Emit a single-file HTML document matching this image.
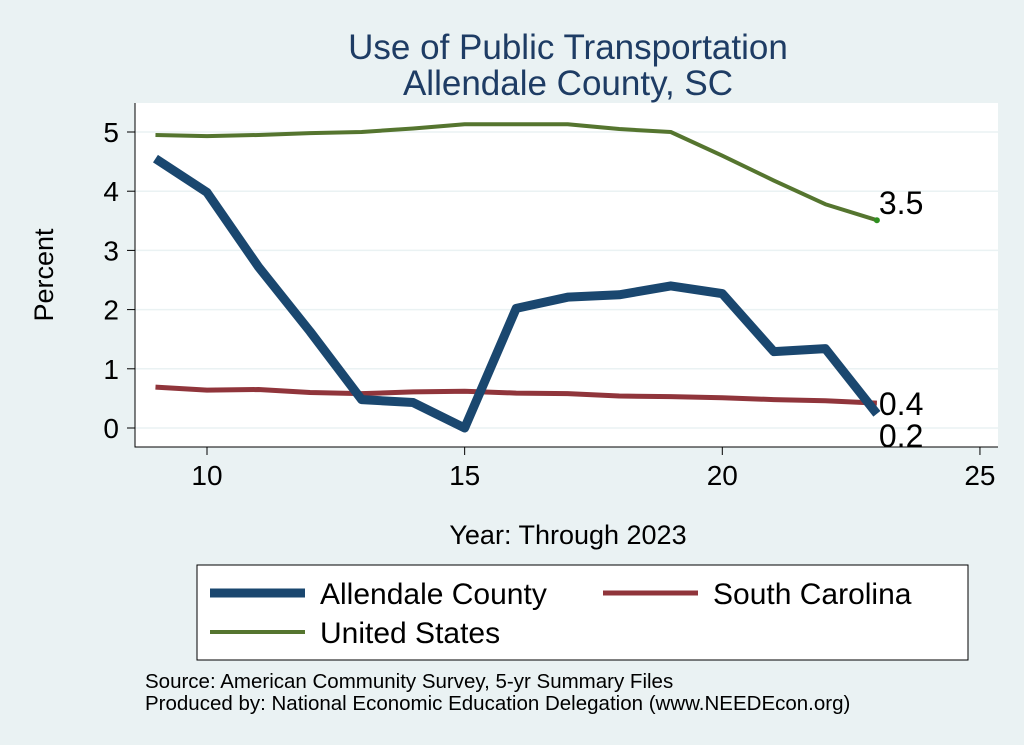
<!DOCTYPE html>
<html><head><meta charset="utf-8"><style>
body{margin:0;background:#eaf2f3;}
svg{display:block;font-family:"Liberation Sans",sans-serif;}
</style></head><body>
<svg width="1024" height="745">
<rect x="0" y="0" width="1024" height="745" fill="#eaf2f3"/>
<text x="568" y="59" font-size="35" fill="#1e3c64" text-anchor="middle">Use of Public Transportation</text>
<text x="568" y="95" font-size="35" fill="#1e3c64" text-anchor="middle">Allendale County, SC</text>
<rect x="135" y="103" width="863" height="344" fill="#fff"/>
<g id="grid"></g><g id="axes"></g><g id="series"></g>
<text x="568" y="544" font-size="27" text-anchor="middle">Year: Through 2023</text>
<text transform="translate(53,275) rotate(-90)" font-size="27" text-anchor="middle">Percent</text>
<g>
<rect x="197" y="565" width="771" height="95" fill="#fff" stroke="#000" stroke-width="1"/>
<line x1="210" y1="593" x2="305" y2="593" stroke="#1a476f" stroke-width="9"/>
<text x="320" y="604" font-size="30">Allendale County</text>
<line x1="603" y1="593" x2="698" y2="593" stroke="#90353b" stroke-width="5"/>
<text x="713" y="604" font-size="30">South Carolina</text>
<line x1="210" y1="632" x2="305" y2="632" stroke="#55752f" stroke-width="4"/>
<text x="320" y="643" font-size="30">United States</text>
</g>
<text x="145" y="688" font-size="20.5">Source: American Community Survey, 5-yr Summary Files</text>
<text x="145" y="710" font-size="20.5">Produced by: National Economic Education Delegation (www.NEEDEcon.org)</text>
</svg>
<script>
const years=[9,10,11,12,13,14,15,16,17,18,19,20,21,22,23];
const allendale=[4.55,3.98,2.72,1.63,0.48,0.43,0.0,2.02,2.21,2.25,2.4,2.27,1.29,1.34,0.24];
const southCarolina=[0.69,0.64,0.65,0.6,0.58,0.61,0.62,0.59,0.58,0.54,0.53,0.51,0.48,0.46,0.42];
const unitedStates=[4.95,4.93,4.95,4.98,5.0,5.06,5.13,5.13,5.13,5.05,5.0,4.6,4.18,3.78,3.51];
const xTicks=[10,15,20,25];
const yTicks=[0,1,2,3,4,5];
const NS="http://www.w3.org/2000/svg";
const X=v=>207+(v-10)*51.53;
const Y=v=>428-v*59.2;
function mk(tag,attrs,parent){const e=document.createElementNS(NS,tag);for(const k in attrs)e.setAttribute(k,attrs[k]);document.getElementById(parent).appendChild(e);return e;}
yTicks.forEach(t=>{
 const g=mk('line',{x1:135,x2:998,y1:Y(t),y2:Y(t),stroke:'#eaf2f3','stroke-width':1.5},'grid');
 
 
 const tk=mk('line',{x1:127,x2:135,y1:Y(t),y2:Y(t),stroke:'#000'},'axes');
 
 
 const tx=mk('text',{x:119,y:Y(t)+10,'font-size':28,'text-anchor':'end'},'axes');tx.textContent=t;
 
 
});
xTicks.forEach(t=>{
 const tk=mk('line',{x1:X(t),x2:X(t),y1:447,y2:455,stroke:'#000'},'axes');
 
 
 const tx=mk('text',{x:X(t),y:485,'font-size':28,'text-anchor':'middle'},'axes');tx.textContent=t;
 
 
});
const ax=mk('path',{d:'M135,103 V447 H998',fill:'none',stroke:'#000','stroke-width':1},'axes');


function line(vals,color,w,name){
 const p=mk('polyline',{points:years.map((y,i)=>X(y)+','+Y(vals[i])).join(' '),fill:'none',stroke:color,'stroke-width':w,'stroke-linejoin':'round'},'series');
 
 
}
line(southCarolina,'#90353b',5,'line-south-carolina');
line(unitedStates,'#55752f',4,'line-united-states');
line(allendale,'#1a476f',9,'line-allendale');
const n=years.length-1;
const d=mk('circle',{cx:X(years[n]),cy:Y(unitedStates[n]),r:3,fill:'#2f8f1f'},'series');


[[unitedStates,-6,'label-us-end'],[southCarolina,12,'label-sc-end'],[allendale,33,'label-allendale-end']].forEach(([arr,off,nm])=>{
 const vals=arr[n];
 const t=mk('text',{x:X(years[n])+2,y:Y(vals)+off,'font-size':32},'series');
 t.textContent=vals.toFixed(1);
 
 
});
</script>
</body></html>
